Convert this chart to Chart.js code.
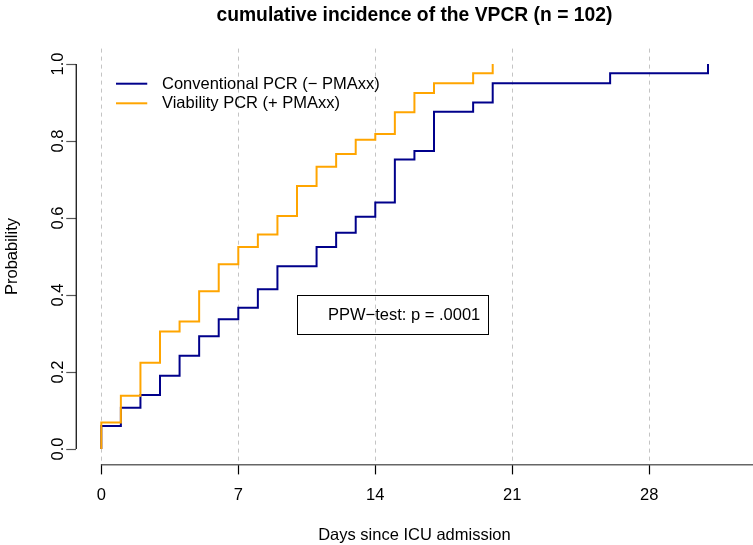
<!DOCTYPE html>
<html><head><meta charset="utf-8">
<script src="https://cdn.jsdelivr.net/npm/chart.js@4/dist/chart.umd.min.js"></script>
<style>html,body{margin:0;padding:0;background:#fff;} canvas{display:block;}</style>
</head><body>
<canvas id="c" width="753" height="545"></canvas>
<script>
const chartTitle = 'cumulative incidence of the VPCR (n = 102)';
const xAxisTitle = 'Days since ICU admission';
const yAxisTitle = 'Probability';
const seriesNames = ['Conventional PCR (\u2212 PMAxx)', 'Viability PCR (+ PMAxx)'];
const seriesColors = ['#00008B', '#FFA500'];
const xTicks = [0, 7, 14, 21, 28];
const yTicks = [0, 0.2, 0.4, 0.6, 0.8, 1.0];
const yTickLabels = ['0.0', '0.2', '0.4', '0.6', '0.8', '1.0'];
const xRange = [0, 32];
const yRange = [0, 1];
// Conventional PCR (- PMAxx): step times and cumulative incidence
const convDays = [0, 0, 1, 2, 3, 4, 5, 6, 7, 8, 9, 11, 12, 13, 14, 15, 16, 17, 19, 20, 26, 31];
const convProb = [0, 0.060, 0.107, 0.140, 0.190, 0.242, 0.293, 0.337, 0.367, 0.415, 0.475, 0.525, 0.562, 0.603, 0.640, 0.752, 0.774, 0.876, 0.900, 0.950, 0.976, 1.000];
// Viability PCR (+ PMAxx)
const viaDays = [0, 0, 1, 2, 3, 4, 5, 6, 7, 8, 9, 10, 11, 12, 13, 14, 15, 16, 17, 19, 20];
const viaProb = [0, 0.069, 0.138, 0.224, 0.305, 0.331, 0.410, 0.480, 0.525, 0.557, 0.605, 0.683, 0.733, 0.766, 0.803, 0.818, 0.875, 0.925, 0.950, 0.976, 1.000];
const testLabel = 'PPW\u2212test: p = .0001';
const testAnchor = [10, 0.4];

const FONT = '"Liberation Sans", Arial, Helvetica, sans-serif';
const BASE = 16.5;

function pts(xs, ys) { return xs.map((v, i) => ({x: v, y: ys[i]})); }
const xPad = (xRange[1] - xRange[0]) * 0.04;
const yPad = (yRange[1] - yRange[0]) * 0.04;

const decor = {
  id: 'decor',
  afterDraw(chart) {
    const {ctx, chartArea: ca, scales: {x, y}} = chart;
    ctx.save();
    // main title
    ctx.fillStyle = '#000';
    ctx.font = 'bold 19.3px ' + FONT;
    ctx.textAlign = 'center';
    ctx.textBaseline = 'alphabetic';
    ctx.fillText(chartTitle, (ca.left + ca.right) / 2, 20.5);
    // x axis line (from first tick to the right edge)
    ctx.strokeStyle = '#666';
    ctx.lineWidth = 1.5;
    ctx.beginPath();
    ctx.moveTo(x.getPixelForValue(xTicks[0]), ca.bottom + 0.3);
    ctx.lineTo(chart.width, ca.bottom + 0.3);
    ctx.stroke();
    // y axis line (first to last tick)
    ctx.strokeStyle = '#000';
    ctx.lineWidth = 1.2;
    ctx.beginPath();
    ctx.moveTo(ca.left, y.getPixelForValue(yTicks[0]));
    ctx.lineTo(ca.left, y.getPixelForValue(yTicks[yTicks.length - 1]));
    ctx.stroke();
    // legend (top left, no frame)
    ctx.font = BASE + 'px ' + FONT;
    ctx.textAlign = 'left';
    ctx.textBaseline = 'middle';
    seriesNames.forEach((name, i) => {
      const ly = ca.top + 35.1 + i * 19.6;
      ctx.strokeStyle = seriesColors[i];
      ctx.lineWidth = 2;
      ctx.beginPath();
      ctx.moveTo(ca.left + 39.75, ly);
      ctx.lineTo(ca.left + 71, ly);
      ctx.stroke();
      ctx.fillStyle = '#000';
      ctx.fillText(name, ca.left + 85.75, ly + 0.5);
    });
    // test result box
    const bx = x.getPixelForValue(testAnchor[0]);
    const by = y.getPixelForValue(testAnchor[1]);
    ctx.strokeStyle = '#000';
    ctx.lineWidth = 1;
    ctx.strokeRect(Math.round(bx) + 0.5, Math.round(by) + 0.5, 191, 39);
    ctx.fillStyle = '#000';
    ctx.fillText(testLabel, bx + 31, by + 20);
    ctx.restore();
  }
};

new Chart(document.getElementById('c'), {
  type: 'scatter',
  data: {
    datasets: [
      {label: seriesNames[1], data: pts(viaDays, viaProb), borderColor: seriesColors[1], backgroundColor: seriesColors[1],
       showLine: true, stepped: 'before', borderWidth: 2, pointRadius: 0, order: 0},
      {label: seriesNames[0], data: pts(convDays, convProb), borderColor: seriesColors[0], backgroundColor: seriesColors[0],
       showLine: true, stepped: 'before', borderWidth: 2, pointRadius: 0, order: 1}
    ]
  },
  options: {
    responsive: false,
    animation: false,
    events: [],
    layout: {padding: {left: 0, right: 0.4, top: 48.6, bottom: 0}},
    plugins: {legend: {display: false}, title: {display: false}, tooltip: {enabled: false}},
    scales: {
      x: {
        type: 'linear', position: 'bottom',
        min: xRange[0] - xPad, max: xRange[1] + xPad,
        afterBuildTicks: s => { s.ticks = xTicks.map(v => ({value: v})); },
        afterFit: s => { s.height = 80.6; },
        grid: {display: true, drawOnChartArea: true, color: '#c4c4c4', lineWidth: 1,
               drawTicks: true, tickLength: 10, tickColor: '#000', tickWidth: 1.2, tickBorderDash: []},
        border: {display: false, dash: [4, 4]},
        ticks: {color: '#000', font: {family: FONT, size: BASE}, padding: 11, maxRotation: 0, autoSkip: false,
                callback: v => String(v)},
        title: {display: true, text: xAxisTitle, color: '#000', font: {family: FONT, size: BASE}, padding: {top: 0, bottom: 0}}
      },
      y: {
        type: 'linear', position: 'left',
        min: yRange[0] - yPad, max: yRange[1] + yPad,
        afterBuildTicks: s => { s.ticks = yTicks.map(v => ({value: v})); },
        afterFit: s => { s.width = 76.25; },
        grid: {display: true, drawOnChartArea: false, drawTicks: true, tickLength: 10, tickColor: '#555', tickWidth: 1.2, color: '#555'},
        border: {display: false},
        ticks: {color: '#000', font: {family: FONT, size: BASE}, padding: -3.2, minRotation: 90, maxRotation: 90,
                crossAlign: 'center', autoSkip: false,
                callback: (v) => { const i = yTicks.indexOf(v); return i >= 0 ? yTickLabels[i] : ''; }},
        title: {display: true, text: yAxisTitle, color: '#000', font: {family: FONT, size: BASE}, padding: {top: 3, bottom: 0}}
      }
    }
  },
  plugins: [decor]
});
</script>
</body></html>
